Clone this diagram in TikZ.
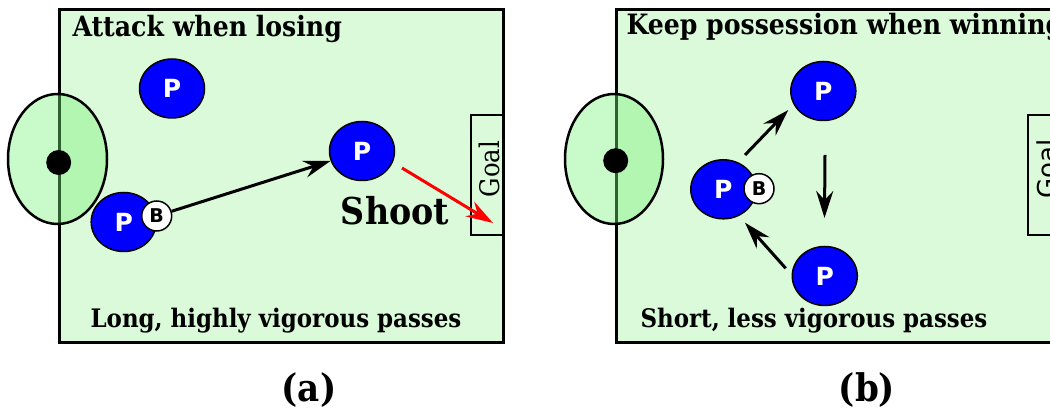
\documentclass[tikz,border=0pt]{standalone}
\usepackage{fontspec}
\setmainfont{DejaVu Serif Condensed}
\newfontfamily\psans{DejaVu Sans}
\usetikzlibrary{shapes.geometric,arrows.meta}
\definecolor{fieldg}{RGB}{218,250,218}
\definecolor{circg}{RGB}{119,242,119}
\definecolor{pblue}{RGB}{0,0,255}
\begin{document}
\begin{tikzpicture}[x=1pt,y=-1pt,
  player/.style={ellipse, draw=black, line width=1.5pt, fill=pblue, minimum width=65pt, minimum height=59pt, inner sep=0pt, text=white, font=\psans\bfseries\fontsize{25}{25}\selectfont},
  ballnode/.style={circle, draw=black, line width=1.5pt, fill=white, minimum size=30pt, inner sep=0pt, font=\psans\bfseries\fontsize{19}{19}\selectfont},
  pass/.style={line width=3pt, -{Stealth[length=27pt,width=17pt,inset=9pt]}},
  fieldline/.style={line width=3pt},
  centrefill/.style={fill=circg, fill opacity=0.4},
  goalbox/.style={draw, line width=2.5pt, minimum width=32pt, minimum height=120pt, inner sep=0pt},
  title/.style={font=\bfseries\fontsize{28}{28}\selectfont},
  note/.style={font=\bfseries\fontsize{25.5}{25.5}\selectfont},
  caption/.style={font=\bfseries\fontsize{38}{38}\selectfont}
]
\useasboundingbox (0,0) rectangle (1050,411);
\clip (0,0) rectangle (1050,411);

% ===== panel (a) =====
\fill[fieldg] (59.5,10) rectangle (503,343);
\draw[fieldline] (59.5,10) rectangle (503,343);
\fill[centrefill] (57.5,159) ellipse [x radius=49.5, y radius=65];
\draw[line width=2.5pt] (57.5,159) ellipse [x radius=49.5, y radius=65];
\fill (58.7,162.5) circle [radius=12.5];

\node[goalbox] (goalboxA) at (487,175) {};
\node[rotate=90, anchor=base, font=\fontsize{27}{27}\selectfont] (goalA) at (499,169) {Goal};

\node[player] (pa1) at (172,88.5) {P};
\node[player] (pa2) at (362,151) {P};
\node[player] (pa3) at (123.7,222) {P};
\node[ballnode] (balla) at (156.7,216) {B};

\node[title, anchor=base west] (titleA) at (69,37) {Attack when losing};
\node[note, anchor=base] (noteA) at (276,328) {Long, highly vigorous passes};
\node[font=\bfseries\fontsize{37}{37}\selectfont, anchor=base] (shoot) at (395,225) {Shoot};
\node[caption, anchor=base] (capA) at (309,402) {(a)};

\draw[pass] (balla) -- (pa2);
\coordinate (shootS) at (402,168);
\coordinate (shootE) at (493,223);
\draw[pass, red] (shootS) -- (shootE);

% ===== panel (b) =====
\fill[fieldg] (616,10) rectangle (1100,343);
\draw[fieldline] (616,10) rectangle (1100,343);
\fill[centrefill] (614,159) ellipse [x radius=49, y radius=65];
\draw[line width=2.5pt] (614,159) ellipse [x radius=49, y radius=65];
\fill (615.7,160.7) circle [radius=12.5];

\node[goalbox] (goalboxB) at (1044,175) {};
\node[rotate=90, anchor=base, font=\psans\fontsize{26}{26}\selectfont] (goalB) at (1056,169) {Goal};

\node[player] (pb1) at (823.3,91) {P};
\node[player] (pb2) at (723.3,189.3) {P};
\node[player] (pb3) at (824.8,276) {P};
\node[ballnode] (ballb) at (759,188.7) {B};

\node[title, anchor=base west] (titleB) at (623,35) {Keep possession when winning};
\node[note, anchor=base] (noteB) at (814,328) {Short, less vigorous passes};
\node[caption, anchor=base] (capB) at (867,402) {(b)};

\coordinate (b1s) at (745,155);
\coordinate (b1e) at (788.3,110);
\coordinate (b2s) at (825,155);
\coordinate (b2e) at (824.5,218);
\coordinate (b3s) at (785.7,268.3);
\coordinate (b3e) at (745,222.7);
\draw[pass] (b1s) -- (b1e);
\draw[pass] (b2s) -- (b2e);
\draw[pass] (b3s) -- (b3e);
\end{tikzpicture}
\end{document}
